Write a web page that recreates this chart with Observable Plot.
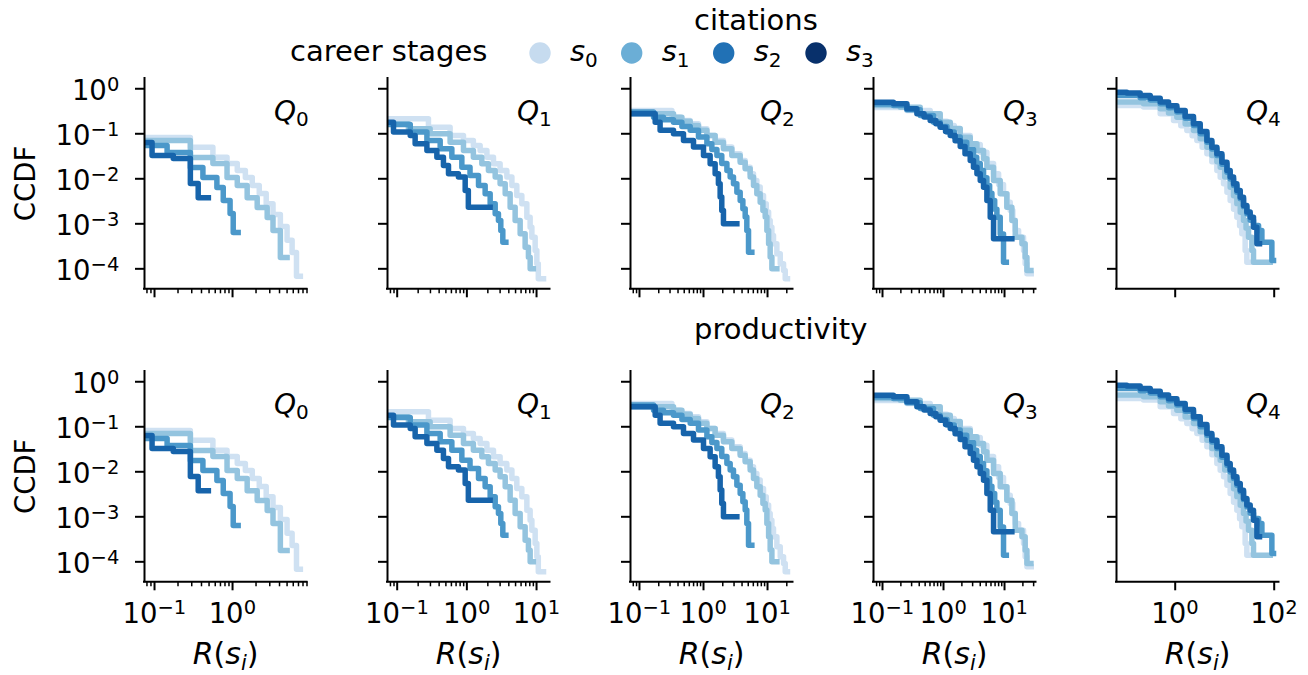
<!DOCTYPE html>
<html><head><meta charset="utf-8">
<script src="https://cdn.jsdelivr.net/npm/d3@7"></script>
<script src="https://cdn.jsdelivr.net/npm/@observablehq/plot@0.6"></script>
<style>
body{margin:0;background:#fff;}
#fig{position:relative;width:1308px;height:675px;overflow:hidden;background:#fff;font-family:"DejaVu Sans";}
#fig svg{position:absolute;overflow:visible;background:transparent;}
</style></head><body><div id="fig"></div>
<script>
// ---------- data ----------
const stages = ["0", "1", "2", "3"];
const quantiles = ["0", "1", "2", "3", "4"];
const rowTitles = ["citations", "productivity"];
const lineColors = ["#cfe1f2", "#94c4df", "#4b98ca", "#1764ab"];
const legendColors = ["#c6dbef", "#6baed6", "#2171b5", "#08306b"];
const yTicks = [1e-4, 1e-3, 1e-2, 1e-1, 1];
const xMajorTicks = [[0.1, 1], [0.1, 1, 10], [0.1, 1, 10], [0.1, 1, 10], [1, 100]];
const xDomains = [[0.0744, 9.0], [0.0726, 15.6], [0.0724, 25.0], [0.0712, 32.8], [0.0652, 125]];
const yDomain = [3.6e-5, 1.69];

// CCDF step curves [R, CCDF]
const Q0_s0 = [[0.074,0.083],[0.288,0.050],[0.56,0.030],[0.85,0.022],[1.15,0.0153],[1.46,0.0107],[1.79,0.0071],[2.2,0.0047],[2.7,0.0028],[3.3,0.0016],[4.1,0.00087],[5.0,0.00043],[5.8,0.00023],[6.6,0.000068],[7.4,0.000068]];
const Q0_s1 = [[0.074,0.071],[0.288,0.0297],[0.56,0.0219],[0.85,0.0107],[1.15,0.0071],[1.54,0.0038],[2.07,0.0023],[2.78,0.00138],[3.3,0.00071],[4.1,0.000178],[5.0,0.000178]];
const Q0_s2 = [[0.074,0.055],[0.145,0.0384],[0.288,0.0178],[0.417,0.0107],[0.63,0.0064],[0.76,0.0033],[0.93,0.0017],[1.02,0.00064],[1.18,0.00064]];
const Q0_s3 = [[0.074,0.064],[0.093,0.033],[0.174,0.0283],[0.288,0.0079],[0.363,0.0038],[0.49,0.0038]];

const Q1_s0 = [[0.075,0.215],[0.281,0.140],[0.575,0.0916],[0.894,0.071],[1.24,0.055],[1.55,0.0425],[1.94,0.0302],[2.41,0.0215],[3.0,0.0153],[3.75,0.0109],[4.43,0.0071],[5.21,0.00426],[6.15,0.00278],[7.26,0.0014],[8.09,0.00084],[8.57,0.0005],[9.55,0.000255],[10.1,0.000129],[10.6,0.00006],[12.6,0.00006]];
const Q1_s1 = [[0.075,0.167],[0.145,0.129],[0.297,0.1],[0.575,0.065],[0.894,0.0425],[1.24,0.0302],[1.64,0.0215],[2.04,0.0153],[2.55,0.0109],[3.0,0.00774],[3.55,0.00464],[4.18,0.00234],[4.93,0.00118],[5.82,0.0006],[6.86,0.0003],[7.65,0.000181],[8.1,0.0001],[9.0,0.0001]];
const Q1_s2 = [[0.075,0.161],[0.154,0.109],[0.267,0.071],[0.414,0.0464],[0.609,0.0302],[0.847,0.0181],[1.11,0.0118],[1.47,0.0071],[1.83,0.00464],[2.16,0.00278],[2.55,0.00167],[2.84,0.00118],[3.07,0.00071],[3.28,0.00039],[3.63,0.00039]];
const Q1_s3 = [[0.075,0.181],[0.0885,0.109],[0.154,0.0916],[0.181,0.06],[0.267,0.0425],[0.371,0.0302],[0.461,0.0198],[0.545,0.0129],[0.757,0.0109],[0.946,0.0055],[1.05,0.00234],[2.16,0.00234]];

const Q2_s0 = [[0.074,0.33],[0.321,0.234],[0.432,0.198],[0.62,0.167],[0.835,0.129],[1.13,0.0918],[1.52,0.0711],[2.05,0.0506],[2.77,0.036],[3.74,0.0255],[4.48,0.0181],[5.36,0.0129],[6.04,0.00918],[6.81,0.00653],[7.68,0.00426],[8.66,0.00278],[9.55,0.00182],[10.4,0.00119],[11.0,0.00084],[11.7,0.00055],[12.4,0.00036],[14.0,0.000215],[15.8,0.000129],[17.8,0.0000918],[18.9,0.00006],[20.5,0.00006]];
const Q2_s1 = [[0.074,0.278],[0.34,0.234],[0.46,0.19],[0.62,0.153],[0.835,0.119],[1.13,0.0918],[1.52,0.0651],[2.05,0.0464],[2.77,0.033],[3.74,0.0234],[4.48,0.0167],[5.36,0.0109],[6.04,0.0071],[6.81,0.00464],[7.68,0.00302],[8.47,0.00198],[9.2,0.00141],[9.77,0.00071],[10.4,0.00036],[11.0,0.000182],[11.7,0.0001],[14.0,0.0001]];
const Q2_s2 = [[0.074,0.303],[0.166,0.234],[0.237,0.205],[0.34,0.181],[0.46,0.145],[0.62,0.119],[0.835,0.0844],[1.13,0.06],[1.35,0.0448],[1.62,0.033],[1.93,0.0219],[2.32,0.0153],[2.61,0.0109],[2.94,0.00774],[3.32,0.00504],[3.74,0.0033],[4.12,0.00215],[4.48,0.00141],[4.75,0.00071],[5.05,0.000234],[5.69,0.000234]];
const Q2_s3 = [[0.074,0.278],[0.176,0.181],[0.21,0.119],[0.34,0.1],[0.487,0.0711],[0.698,0.0506],[1.0,0.033],[1.27,0.0215],[1.52,0.0129],[1.71,0.00774],[1.82,0.00392],[1.93,0.00198],[2.05,0.001],[3.32,0.001]];

const Q3_s0 = [[0.0712,0.384],[0.251,0.33],[0.605,0.234],[0.883,0.19],[1.14,0.153],[1.5,0.12],[1.88,0.0916],[2.74,0.058],[4.0,0.039],[5.14,0.022],[6.61,0.0129],[8.0,0.0075],[9.63,0.00464],[11.0,0.003],[12.4,0.00198],[13.7,0.0012],[15.0,0.00071],[17.0,0.0005],[20.5,0.000255],[21.8,0.000129],[23.3,0.0000774],[27.4,0.0000774]];
const Q3_s1 = [[0.0712,0.425],[0.195,0.39],[0.415,0.278],[0.883,0.181],[1.29,0.131],[1.88,0.084],[2.74,0.06],[3.53,0.0425],[4.53,0.028],[5.14,0.0181],[6.61,0.00917],[8.5,0.00464],[10.9,0.00234],[13.2,0.00118],[15.0,0.0005],[19.3,0.00036],[21.8,0.000181],[23.3,0.0000917],[27.1,0.0000917]];
const Q3_s2 = [[0.0712,0.46],[0.151,0.425],[0.251,0.341],[0.415,0.255],[0.686,0.181],[0.883,0.145],[1.14,0.109],[1.5,0.085],[1.88,0.065],[2.4,0.045],[3.1,0.0302],[3.5,0.022],[4.0,0.0153],[4.53,0.0105],[5.14,0.0071],[5.7,0.0048],[6.21,0.0033],[6.9,0.0021],[7.5,0.0014],[8.5,0.00059],[9.63,0.00014],[10.7,0.00014]];
const Q3_s3 = [[0.0712,0.504],[0.151,0.464],[0.251,0.36],[0.366,0.278],[0.48,0.235],[0.605,0.198],[0.75,0.166],[0.883,0.140],[1.08,0.113],[1.29,0.0916],[1.55,0.07],[1.88,0.0522],[2.25,0.036],[2.74,0.0255],[3.1,0.018],[3.53,0.0129],[4.0,0.0092],[4.53,0.0065],[5.14,0.0033],[5.83,0.0014],[6.61,0.000464],[13.2,0.000464]];

const Q4_s0 = [[0.0664,0.425],[0.229,0.391],[0.498,0.278],[0.925,0.198],[1.3,0.15],[1.72,0.118],[2.2,0.09],[2.74,0.071],[3.5,0.05],[4.37,0.0359],[5.5,0.024],[6.95,0.0153],[8.11,0.0108],[9.47,0.00773],[11.1,0.005],[12.9,0.0033],[15.1,0.0021],[17.6,0.0014],[20.0,0.0009],[22.2,0.000598],[25.9,0.000255],[28.0,0.00014],[35.4,0.00014]];
const Q4_s1 = [[0.0664,0.505],[0.229,0.463],[0.498,0.359],[0.733,0.29],[1.08,0.234],[1.59,0.165],[2.34,0.118],[3.2,0.078],[4.37,0.0505],[5.5,0.033],[6.95,0.024],[8.11,0.0181],[10.0,0.011],[12.9,0.00652],[15.1,0.0042],[17.6,0.00278],[20.6,0.0018],[24.0,0.00118],[27.0,0.0008],[30.3,0.000505],[35.4,0.000255],[38.2,0.00014],[83,0.00014]];
const Q4_s2 = [[0.0664,0.71],[0.196,0.63],[0.313,0.56],[0.498,0.463],[0.733,0.38],[1.08,0.303],[1.59,0.22],[2.34,0.153],[3.2,0.1],[4.37,0.0652],[5.5,0.046],[6.95,0.033],[8.77,0.021],[11.1,0.014],[12.9,0.0099],[15.1,0.0071],[17.6,0.005],[20.6,0.00359],[24.0,0.0024],[28.0,0.00167],[32.7,0.0012],[38.2,0.00092],[48.3,0.00071],[56.4,0.000391],[89.7,0.000153],[96.9,0.000153]];
const Q4_s3 = [[0.0664,0.841],[0.1056,0.80],[0.196,0.71],[0.313,0.619],[0.498,0.505],[0.733,0.418],[1.08,0.33],[1.59,0.242],[2.34,0.167],[3.2,0.112],[4.37,0.071],[5.5,0.0505],[6.95,0.0359],[8.77,0.0234],[11.1,0.0153],[12.9,0.0109],[15.1,0.00773],[17.6,0.0055],[20.6,0.0039],[24.0,0.00255],[28.0,0.00182],[32.7,0.0014],[38.2,0.00084],[44.7,0.000359],[50.5,0.000359]];

// the productivity row shows the same curves as the citations row in the picture
const citationsPanels = [[Q0_s0,Q0_s1,Q0_s2,Q0_s3],[Q1_s0,Q1_s1,Q1_s2,Q1_s3],[Q2_s0,Q2_s1,Q2_s2,Q2_s3],[Q3_s0,Q3_s1,Q3_s2,Q3_s3],[Q4_s0,Q4_s1,Q4_s2,Q4_s3]];
const productivityPanels = citationsPanels;
const rows = [citationsPanels, productivityPanels];

// ---------- layout ----------
const W = 162.5, H = 210.3;
const colLeft = [144.3, 387.3, 630.3, 873.3, 1116.3];
const rowTop = [78, 370.8];
const mL = 100, mR = 20, mT = 20, mB = 60;
const TICK_FS = 27.5, SUP_FS = 19.5;
const fig = document.getElementById("fig");

const expText = v => { const k = Math.round(Math.log10(v)); return k < 0 ? "\u2212" + (-k) : String(k); };
const isDecade = v => Math.abs(Math.log10(v) - Math.round(Math.log10(v))) < 1e-9;
const tickLabels = [];

rows.forEach((panels, r) => {
  panels.forEach((series, c) => {
    const xd = xDomains[c];
    const minor = c < 4 ? d3.scaleLog().domain(xd).ticks().filter(v => !isDecade(v)) : [];
    const marks = [];
    series.forEach((s, i) => {
      marks.push(Plot.line(s, {x: d => d[0], y: d => d[1], curve: "step-after", stroke: lineColors[i],
        strokeWidth: 5.5, strokeLinejoin: "round", strokeLinecap: "square", clip: true}));
    });
    marks.push(Plot.ruleX([xd[0]], {stroke: "black", strokeWidth: 2, strokeLinecap: "square"}));
    marks.push(Plot.ruleY([yDomain[0]], {stroke: "black", strokeWidth: 2, strokeLinecap: "square"}));
    marks.push(Plot.axisY(yTicks, {tickSize: 9, strokeWidth: 2, label: null, tickFormat: () => ""}));
    marks.push(Plot.axisX(xMajorTicks[c], {tickSize: 9, strokeWidth: 2, label: null, tickFormat: () => ""}));
    if (minor.length) marks.push(Plot.axisX(minor, {tickSize: 5, strokeWidth: 1.5, label: null, tickFormat: () => ""}));
    const svg = Plot.plot({
      width: mL + W + mR, height: mT + H + mB,
      marginLeft: mL, marginRight: mR, marginTop: mT, marginBottom: mB,
      x: {type: "log", domain: xd}, y: {type: "log", domain: yDomain},
      style: {background: "transparent", overflow: "visible", color: "black"},
      marks
    });
    const offX = colLeft[c] - mL, offY = rowTop[r] - mT;
    svg.style.left = offX + "px";
    svg.style.top = offY + "px";
    fig.appendChild(svg);
    // tick label positions from the plot's own scales
    const sx = svg.scale("x"), sy = svg.scale("y");
    if (c === 0) yTicks.forEach(v => tickLabels.push({x: colLeft[c] - 25, y: offY + sy.apply(v) + 11.7, anchor: "end", v}));
    if (r === 1) xMajorTicks[c].forEach(v => tickLabels.push({x: offX + sx.apply(v), y: rowTop[r] + H + 41.5, anchor: "middle", v}));
  });
});

// ---------- annotations ----------
const ov = d3.select(fig).append("svg").attr("width", 1308).attr("height", 675)
  .style("left", "0px").style("top", "0px").style("pointer-events", "none")
  .attr("font-family", "DejaVu Sans").attr("fill", "black");

tickLabels.forEach(d => {
  const t = ov.append("text").attr("x", d.x).attr("y", d.y).attr("text-anchor", d.anchor).attr("font-size", TICK_FS);
  t.append("tspan").text("10");
  t.append("tspan").attr("font-size", SUP_FS).attr("dy", -9).text(expText(d.v));
});

ov.append("text").attr("x", 694).attr("y", 30).attr("font-size", 29).text(rowTitles[0]);
ov.append("text").attr("x", 694).attr("y", 339).attr("font-size", 29).text(rowTitles[1]);

// legend
ov.append("text").attr("x", 290).attr("y", 61).attr("font-size", 29).text("career stages");
const legendX = [540, 631.7, 723.7, 816];
stages.forEach((s, i) => {
  ov.append("circle").attr("cx", legendX[i]).attr("cy", 53).attr("r", 10.7).attr("fill", legendColors[i]);
  const t = ov.append("text").attr("x", legendX[i] + 30).attr("y", 61).attr("font-size", 29);
  t.append("tspan").attr("font-style", "italic").text("s");
  t.append("tspan").attr("font-size", 20).attr("dy", 6).text(s);
});

rows.forEach((_, r) => {
  ov.append("text").attr("transform", `translate(35,${rowTop[r] + 105.5}) rotate(-90)`)
    .attr("text-anchor", "middle").attr("font-size", 27.5).text("CCDF");
  quantiles.forEach((q, c) => {
    const t = ov.append("text").attr("x", colLeft[c] + W + 2).attr("y", rowTop[r] + 43)
      .attr("text-anchor", "end").attr("font-size", 28);
    t.append("tspan").attr("font-style", "italic").text("Q");
    t.append("tspan").attr("font-size", 20).attr("dy", 5).text(q);
  });
});
quantiles.forEach((q, c) => {
  const t = ov.append("text").attr("x", colLeft[c] + W / 2).attr("y", 664)
    .attr("text-anchor", "middle").attr("font-size", 30);
  t.append("tspan").attr("font-style", "italic").text("R");
  t.append("tspan").text("(");
  t.append("tspan").attr("font-style", "italic").text("s");
  t.append("tspan").attr("font-style", "italic").attr("font-size", 21).attr("dy", 6).text("i");
  t.append("tspan").attr("dy", -6).text(")");
});
</script></body></html>
